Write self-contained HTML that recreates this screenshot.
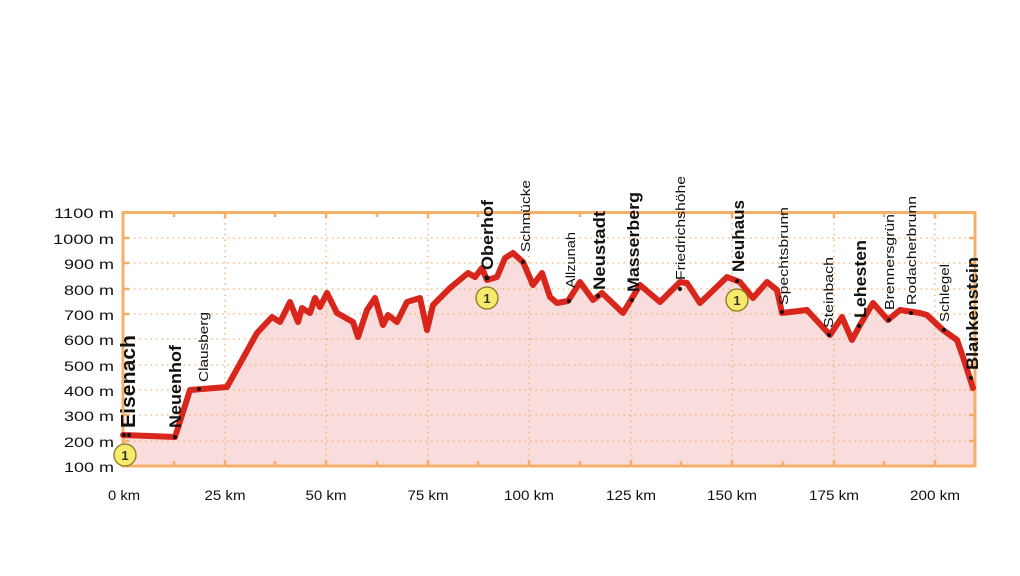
<!DOCTYPE html>
<html><head><meta charset="utf-8"><style>
html,body{margin:0;padding:0;background:#fff;}
svg{display:block;font-family:"Liberation Sans",sans-serif;}
</style></head><body>
<svg width="1020" height="576" viewBox="0 0 1020 576" xmlns="http://www.w3.org/2000/svg">
<rect width="1020" height="576" fill="#fff"/>
<!-- fill -->
<polygon fill="#f9dcdc" points="123,466 123,435 175,437 190,390 227,387 257,333 272,317 280,322 290,302 298,322 302,308 310,313 315,298 320,307 327,293 337,313 353,322 358,337 367,310 375,298 383,325 388,315 397,322 407,302 420,298 427,330 433,305 450,288 468,273 475,277 482,268 487,280 497,277 505,258 513,253 523,262 533,285 542,273 550,297 557,303 568,301 580,282 593,300 602,293 623,313 640,285 660,302 680,282 687,283 700,303 727,277 740,282 753,298 767,282 777,290 782,313 807,310 830,335 842,317 852,340 860,325 873,303 888,320 900,310 920,313 927,315 943,330 957,340 963,357 973,388 975,388 975,466"/>
<!-- grid -->
<g stroke="#f4b06a" stroke-width="1.3" stroke-dasharray="1.5,4">
<line x1="123" y1="238" x2="975" y2="238"/><line x1="123" y1="263" x2="975" y2="263"/><line x1="123" y1="289" x2="975" y2="289"/><line x1="123" y1="314" x2="975" y2="314"/><line x1="123" y1="339" x2="975" y2="339"/><line x1="123" y1="365" x2="975" y2="365"/><line x1="123" y1="390" x2="975" y2="390"/><line x1="123" y1="415" x2="975" y2="415"/><line x1="123" y1="441" x2="975" y2="441"/>
<line x1="225" y1="212" x2="225" y2="466"/><line x1="326" y1="212" x2="326" y2="466"/><line x1="428" y1="212" x2="428" y2="466"/><line x1="529" y1="212" x2="529" y2="466"/><line x1="631" y1="212" x2="631" y2="466"/><line x1="732" y1="212" x2="732" y2="466"/><line x1="834" y1="212" x2="834" y2="466"/><line x1="935" y1="212" x2="935" y2="466"/>
</g>
<g stroke="#f4b06a" stroke-width="2.5">
<path d="M174,212v5M174,466v-5M275,212v5M275,466v-5M377,212v5M377,466v-5M478,212v5M478,466v-5M580,212v5M580,466v-5M681,212v5M681,466v-5M783,212v5M783,466v-5M884,212v5M884,466v-5"/>
<path d="M225,212v6M225,466v-6M326,212v6M326,466v-6M428,212v6M428,466v-6M529,212v6M529,466v-6M631,212v6M631,466v-6M732,212v6M732,466v-6M834,212v6M834,466v-6M935,212v6M935,466v-6"/>
<path d="M123,238h6M123,263h6M123,289h6M123,314h6M123,339h6M123,365h6M123,390h6M123,415h6M123,441h6M975,238h-6M975,263h-6M975,289h-6M975,314h-6M975,339h-6M975,365h-6M975,390h-6M975,415h-6M975,441h-6"/>
</g>
<rect x="123" y="212.5" width="852" height="253.5" fill="none" stroke="#f4b06a" stroke-width="3"/>
<!-- line -->
<polyline fill="none" stroke="#d9261c" stroke-width="6" stroke-linejoin="round" stroke-linecap="round" points="123,435 175,437 190,390 227,387 257,333 272,317 280,322 290,302 298,322 302,308 310,313 315,298 320,307 327,293 337,313 353,322 358,337 367,310 375,298 383,325 388,315 397,322 407,302 420,298 427,330 433,305 450,288 468,273 475,277 482,268 487,280 497,277 505,258 513,253 523,262 533,285 542,273 550,297 557,303 568,301 580,282 593,300 602,293 623,313 640,285 660,302 680,282 687,283 700,303 727,277 740,282 753,298 767,282 777,290 782,313 807,310 830,335 842,317 852,340 860,325 873,303 888,320 900,310 920,313 927,315 943,330 957,340 963,357 973,388"/>
<!-- dots -->
<g fill="#111">
<circle cx="124" cy="435" r="2"/><circle cx="129" cy="435" r="2"/><circle cx="175" cy="437" r="2"/><circle cx="199" cy="389" r="2"/><circle cx="487" cy="278" r="2.5"/><circle cx="523" cy="262" r="2"/><circle cx="569" cy="301" r="2"/><circle cx="598" cy="296" r="2"/><circle cx="632" cy="300" r="2"/><circle cx="680" cy="289" r="2"/><circle cx="737" cy="281" r="2"/><circle cx="782" cy="312" r="2"/><circle cx="829" cy="335" r="2"/><circle cx="859" cy="326" r="2"/><circle cx="889" cy="320" r="2"/><circle cx="911" cy="313" r="2"/><circle cx="944" cy="330" r="2"/><circle cx="971" cy="378" r="2"/>
</g>
<!-- markers -->
<g fill="#f6ea6a" stroke="#8a7a20" stroke-width="1.3">
<circle cx="125" cy="455" r="11"/><circle cx="487" cy="298" r="11"/><circle cx="737" cy="300" r="11"/>
</g>
<g font-size="13" font-weight="bold" fill="#333" text-anchor="middle">
<text x="125" y="460">1</text><text x="487" y="303">1</text><text x="737" y="305">1</text>
</g>
<!-- y labels -->
<g font-size="14" fill="#111" text-anchor="end">
<text x="114" y="218" textLength="60" lengthAdjust="spacingAndGlyphs">1100 m</text>
<text x="114" y="244" textLength="61" lengthAdjust="spacingAndGlyphs">1000 m</text>
<text x="114" y="269" textLength="50" lengthAdjust="spacingAndGlyphs">900 m</text>
<text x="114" y="295" textLength="50" lengthAdjust="spacingAndGlyphs">800 m</text>
<text x="114" y="320" textLength="50" lengthAdjust="spacingAndGlyphs">700 m</text>
<text x="114" y="345" textLength="50" lengthAdjust="spacingAndGlyphs">600 m</text>
<text x="114" y="371" textLength="50" lengthAdjust="spacingAndGlyphs">500 m</text>
<text x="114" y="396" textLength="50" lengthAdjust="spacingAndGlyphs">400 m</text>
<text x="114" y="421" textLength="50" lengthAdjust="spacingAndGlyphs">300 m</text>
<text x="114" y="447" textLength="50" lengthAdjust="spacingAndGlyphs">200 m</text>
<text x="114" y="472" textLength="50" lengthAdjust="spacingAndGlyphs">100 m</text>
</g>
<!-- x labels -->
<g font-size="14" fill="#111" text-anchor="middle">
<text x="124" y="500" textLength="32" lengthAdjust="spacingAndGlyphs">0 km</text>
<text x="225" y="500" textLength="41" lengthAdjust="spacingAndGlyphs">25 km</text>
<text x="326" y="500" textLength="41" lengthAdjust="spacingAndGlyphs">50 km</text>
<text x="428" y="500" textLength="41" lengthAdjust="spacingAndGlyphs">75 km</text>
<text x="529" y="500" textLength="50" lengthAdjust="spacingAndGlyphs">100 km</text>
<text x="631" y="500" textLength="50" lengthAdjust="spacingAndGlyphs">125 km</text>
<text x="732" y="500" textLength="50" lengthAdjust="spacingAndGlyphs">150 km</text>
<text x="834" y="500" textLength="50" lengthAdjust="spacingAndGlyphs">175 km</text>
<text x="935" y="500" textLength="50" lengthAdjust="spacingAndGlyphs">200 km</text>
</g>
<!-- place labels -->
<g fill="#111" font-weight="bold" font-size="17">
<text transform="translate(135,428) rotate(-90)" font-size="20" textLength="93" lengthAdjust="spacingAndGlyphs">Eisenach</text>
<text transform="translate(181,428) rotate(-90)" textLength="83" lengthAdjust="spacingAndGlyphs">Neuenhof</text>
<text transform="translate(493,270) rotate(-90)" textLength="70" lengthAdjust="spacingAndGlyphs">Oberhof</text>
<text transform="translate(605,290) rotate(-90)" textLength="79" lengthAdjust="spacingAndGlyphs">Neustadt</text>
<text transform="translate(639,292) rotate(-90)" textLength="100" lengthAdjust="spacingAndGlyphs">Masserberg</text>
<text transform="translate(744,272) rotate(-90)" textLength="72" lengthAdjust="spacingAndGlyphs">Neuhaus</text>
<text transform="translate(866,318) rotate(-90)" textLength="78" lengthAdjust="spacingAndGlyphs">Lehesten</text>
<text transform="translate(978,370) rotate(-90)" textLength="113" lengthAdjust="spacingAndGlyphs">Blankenstein</text>
</g>
<g fill="#111" font-size="13">
<text transform="translate(208,382) rotate(-90)" textLength="70" lengthAdjust="spacingAndGlyphs">Clausberg</text>
<text transform="translate(530,252) rotate(-90)" textLength="72" lengthAdjust="spacingAndGlyphs">Schmücke</text>
<text transform="translate(575,288) rotate(-90)" textLength="56" lengthAdjust="spacingAndGlyphs">Allzunah</text>
<text transform="translate(685,280) rotate(-90)" textLength="104" lengthAdjust="spacingAndGlyphs">Friedrichshöhe</text>
<text transform="translate(788,305) rotate(-90)" textLength="98" lengthAdjust="spacingAndGlyphs">Spechtsbrunn</text>
<text transform="translate(833,328) rotate(-90)" textLength="71" lengthAdjust="spacingAndGlyphs">Steinbach</text>
<text transform="translate(894,310) rotate(-90)" textLength="96" lengthAdjust="spacingAndGlyphs">Brennersgrün</text>
<text transform="translate(916,305) rotate(-90)" textLength="109" lengthAdjust="spacingAndGlyphs">Rodacherbrunn</text>
<text transform="translate(949,322) rotate(-90)" textLength="58" lengthAdjust="spacingAndGlyphs">Schlegel</text>
</g>
</svg>
</body></html>
